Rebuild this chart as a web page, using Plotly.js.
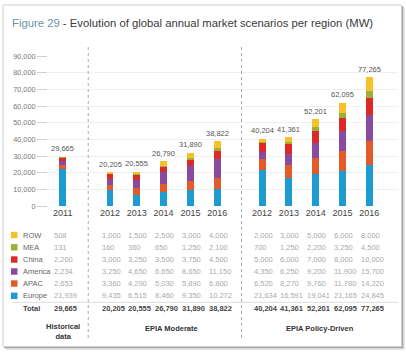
<!DOCTYPE html>
<html>
<head>
<meta charset="utf-8">
<script src="https://cdn.plot.ly/plotly-3.0.1.min.js"></script>
<style>html,body{margin:0;padding:0;background:#fff;}#chart{width:406px;height:352px;}</style>
</head>
<body>
<div id="chart"></div>
<script>
// ---- Data ----
var years = ['2011', '2012', '2013', '2014', '2015', '2016', '2012', '2013', '2014', '2015', '2016'];
var groupSizes = [1, 5, 5];
var groupNames = ['Historical<br>data', 'EPIA Moderate', 'EPIA Policy-Driven'];
var regions = ['Europe', 'APAC', 'America', 'China', 'MEA', 'ROW'];
var europe  = [21939, 9435, 6515, 8460, 9350, 10272, 21634, 16591, 19041, 21165, 24845];
var apac    = [2653, 3360, 4290, 5030, 5890, 6800, 6520, 8270, 9760, 11780, 14220];
var america = [2234, 3250, 4650, 6650, 8650, 11150, 4350, 6250, 9200, 11900, 15700];
var china   = [2200, 3000, 3250, 3500, 3750, 4500, 5000, 6000, 7000, 8000, 10000];
var mea     = [131, 160, 360, 650, 1250, 2100, 700, 1250, 2200, 3250, 4500];
var row     = [508, 1000, 1500, 2500, 3000, 4000, 2000, 3000, 5000, 6000, 8000];
var totals  = [29665, 20205, 20555, 26790, 31890, 38822, 40204, 41361, 52201, 62095, 77265];
var colors  = ['#1d9bd3', '#e55a2a', '#8a4a9f', '#dc2b27', '#a0ad37', '#f5c22b'];

var series = [europe, apac, america, china, mea, row];

// ---- Layout helpers ----
var W = 406, H = 352, ML = 48, MR = 8, MT = 56, MB = 146;
var PW = W - ML - MR, PH = H - MT - MB;
function px(p) { return (p - ML) / PW; }
function py(p) { return (H - MB - p) / PH; }
var groupGaps = [0, 0.765, 0.675];
var pos = [], groupStart = [], cur = 0;
groupSizes.forEach(function (n, g) {
  if (g > 0) cur += 1 + groupGaps[g];
  groupStart.push(pos.length);
  for (var i = 0; i < n; i++) { pos.push(cur); if (i < n - 1) cur += 1; }
});
var fmt = function (v) { return v.toLocaleString('en-US'); };
var FONT = 'Liberation Sans, Arial, Helvetica, sans-serif';

var traces = regions.map(function (r, i) {
  return {
    type: 'bar', name: r, x: pos, y: series[i],
    marker: { color: colors[i], line: { width: 0 } },
    width: 0.26, hoverinfo: 'skip'
  };
});

var annotations = [];
var shapes = [];

// total labels above bars
pos.forEach(function (x, i) {
  annotations.push({ x: x, y: totals[i], xref: 'x', yref: 'y', text: fmt(totals[i]),
    showarrow: false, yanchor: 'bottom', yshift: 1.5,
    font: { family: FONT, size: 7.5, color: '#555' } });
});

// table rows (top to bottom: ROW ... Europe)
var rowY = [235, 247.3, 259.5, 271.5, 283.5, 295.8];
var totalY = 308.3;
for (var r = regions.length - 1, j = 0; r >= 0; r--, j++) {
  var yy = py(rowY[j]);
  shapes.push({ type: 'rect', xref: 'paper', yref: 'paper', x0: px(11), x1: px(17.5),
    y0: yy - 3.2 / PH, y1: yy + 3.2 / PH, fillcolor: colors[r], line: { width: 0 } });
  annotations.push({ x: px(21), y: yy, xref: 'paper', yref: 'paper', text: regions[r],
    showarrow: false, xanchor: 'left', yanchor: 'middle',
    font: { family: FONT, size: 7.5, color: '#666' } });
  pos.forEach(function (x, i) {
    annotations.push({ x: x - 0.39, y: yy, xref: 'x', yref: 'paper', text: fmt(series[r][i]),
      showarrow: false, xanchor: 'left', yanchor: 'middle',
      font: { family: FONT, size: 7.5, color: '#aaa' } });
  });
}
annotations.push({ x: px(21), y: py(totalY), xref: 'paper', yref: 'paper', text: '<b>Total</b>',
  showarrow: false, xanchor: 'left', yanchor: 'middle', font: { family: FONT, size: 7.5, color: '#444' } });
pos.forEach(function (x, i) {
  annotations.push({ x: x - 0.39, y: py(totalY), xref: 'x', yref: 'paper', text: '<b>' + fmt(totals[i]) + '</b>',
    showarrow: false, xanchor: 'left', yanchor: 'middle', font: { family: FONT, size: 7.5, color: '#444' } });
});
shapes.push({ type: 'line', xref: 'paper', yref: 'paper', x0: px(12), x1: px(398),
  y0: py(302.3), y1: py(302.3), line: { color: '#ddd', width: 1 } });

// group labels
var groupShift = [0, 8, 4];
groupSizes.forEach(function (n, g) {
  var s = groupStart[g];
  var c = (pos[s] + pos[s + n - 1]) / 2;
  annotations.push({ x: c, y: py(n === 1 ? 331.5 : 328), xref: 'x', yref: 'paper', xshift: groupShift[g],
    text: '<b>' + groupNames[g] + '</b>', showarrow: false, yanchor: 'middle',
    font: { family: FONT, size: 7.5, color: '#333' } });
});

// separators
for (var g = 1; g < groupSizes.length; g++) {
  var a = pos[groupStart[g] - 1], b = pos[groupStart[g]];
  var m = (a + b) / 2 + 0.07;
  shapes.push({ type: 'line', xref: 'x', yref: 'paper', x0: m, x1: m, y0: py(47), y1: py(340),
    line: { color: '#aaa', width: 1, dash: 'dot' } });
}

// card with shadow
shapes.unshift(
  { type: 'rect', xref: 'paper', yref: 'paper', layer: 'below', x0: px(5), x1: px(404.5), y0: py(349.5), y1: py(7),
    fillcolor: '#d4d4d4', line: { width: 0 } },
  { type: 'rect', xref: 'paper', yref: 'paper', layer: 'below', x0: px(4), x1: px(403), y0: py(348), y1: py(6),
    fillcolor: '#a8a8a8', line: { width: 0 } },
  { type: 'rect', xref: 'paper', yref: 'paper', layer: 'below', x0: px(3), x1: px(401.5), y0: py(346.5), y1: py(5),
    fillcolor: '#ffffff', line: { color: '#cfcfcf', width: 1 } }
);

var layout = {
  width: W, height: H,
  margin: { l: ML, r: MR, t: MT, b: MB, pad: 0 },
  paper_bgcolor: '#ffffff', plot_bgcolor: 'rgba(0,0,0,0)',
  barmode: 'stack', showlegend: false,
  font: { family: FONT },
  title: { text: '<span style="color:#6b93a6">Figure 29</span> - Evolution of global annual market scenarios per region (MW)',
    x: 12 / W, xanchor: 'left', xref: 'container', y: 1 - 23 / H, yanchor: 'middle', yref: 'container',
    font: { family: FONT, size: 11.3, color: '#3a3a3a' } },
  xaxis: {
    range: [(ML - 62.7) / 26.8, (W - MR - 62.7) / 26.8],
    tickvals: pos, ticktext: years, ticks: '', showgrid: false, zeroline: false, showline: false,
    tickfont: { family: FONT, size: 9, color: '#444' }, fixedrange: true
  },
  yaxis: {
    range: [0, 90000], dtick: 10000, tickformat: ',', ticks: 'outside', ticklen: 10, tickcolor: '#d0d0d0',
    showgrid: true, gridcolor: '#f0f0f0', gridwidth: 1, zeroline: false, showline: false,
    tickfont: { family: FONT, size: 7.3, color: '#777' }, fixedrange: true
  },
  annotations: annotations, shapes: shapes
};

Plotly.newPlot('chart', traces, layout, { displayModeBar: false, staticPlot: true });
</script>
</body>
</html>
